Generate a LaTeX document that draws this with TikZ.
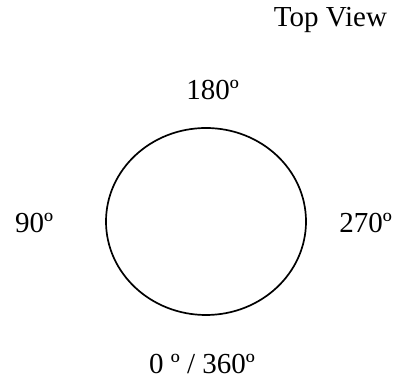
\documentclass[tikz,border=0pt]{standalone}
\usepackage{fontspec}
\setmainfont{Liberation Serif}
\usetikzlibrary{shapes.geometric}

\begin{document}
\begin{tikzpicture}[x=1pt,y=1pt,font=\fontsize{29}{34}\selectfont,
  ring/.style={draw,ellipse,line width=1.7pt,minimum width=200pt,minimum height=187pt,inner sep=0pt},
  lbl/.style={anchor=base,inner sep=0pt}]
  \useasboundingbox (0,0) rectangle (407,379);
  \node[ring] (disc) at (206,157.5) {};
  \node[lbl] (top) at (330.5,352) {Top View};
  \node[lbl] (deg180) at (212.5,279) {180º};
  \node[lbl] (deg90) at (34,146) {90º};
  \node[lbl] (deg270) at (365.5,146) {270º};
  \node[lbl] (deg0) at (202,5.5) {0 º / 360º};
\end{tikzpicture}
\end{document}
